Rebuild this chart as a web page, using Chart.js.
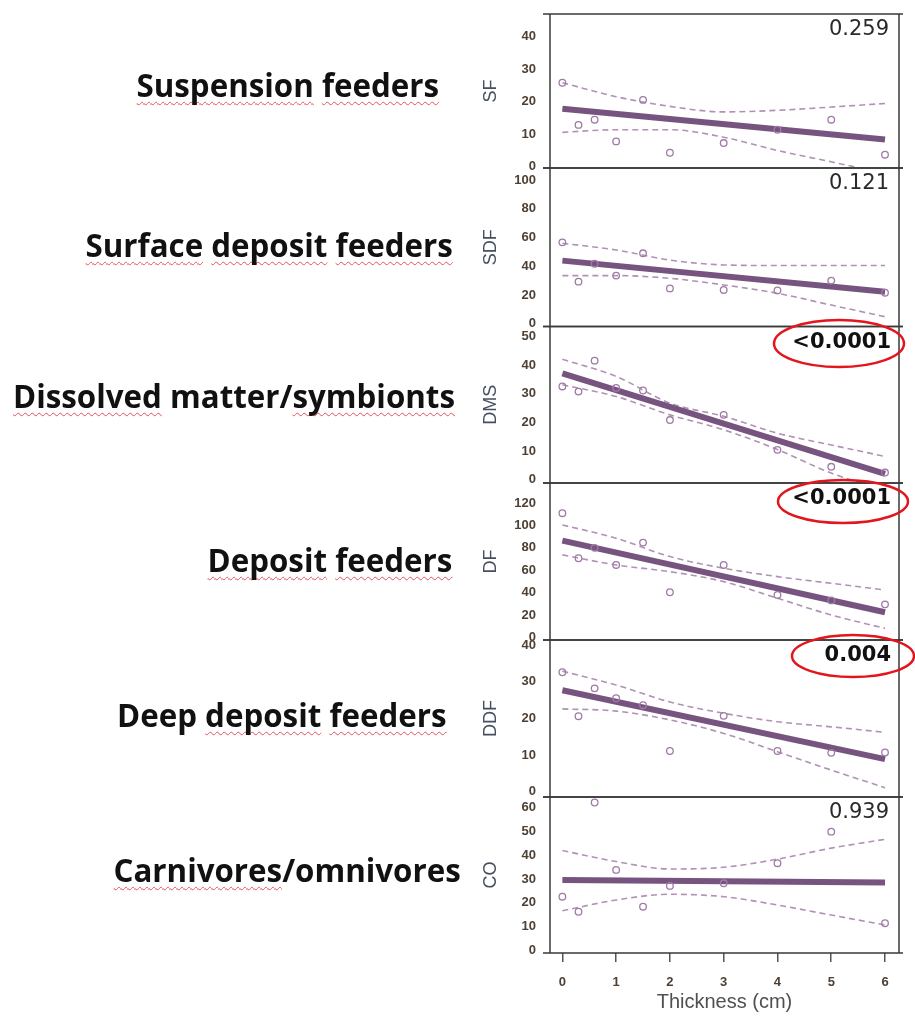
<!DOCTYPE html>
<html>
<head>
<meta charset="utf-8">
<title>Feeding groups vs thickness</title>
<script src="https://cdn.jsdelivr.net/npm/chart.js@4/dist/chart.umd.min.js"></script>
<style>
  html, body { margin: 0; padding: 0; background: #fff; }
  #wrap { position: relative; width: 915px; height: 1017px; overflow: hidden; }
  #chart { position: absolute; left: 0; top: 0; }
  .group {
    position: absolute;
    font-family: "Open Sans", Lato, sans-serif;
    font-weight: 700;
    color: #111;
    white-space: nowrap;
    line-height: 1.2;
  }
  .flag {
    text-decoration: underline wavy #e8505a;
    text-decoration-thickness: 1px;
    text-underline-offset: 4px;
    text-decoration-skip-ink: none;
  }
</style>
</head>
<body>
<div id="wrap">
  <canvas id="chart" width="915" height="1017"></canvas>
</div>
<script>
// sampling sites along the thickness gradient (cm)
const thickness = [0, 0.3, 0.6, 1, 1.5, 2, 3, 4, 5, 6];
// x values for the fitted line and for the 95% band
const fitX = [0, 6];
const bandX = [0, 1, 2, 3, 4, 5, 6];
const xTicks = [0, 1, 2, 3, 4, 5, 6];

const groupNames = ["Suspension feeders", "Surface deposit feeders", "Dissolved matter/symbionts",
                    "Deposit feeders", "Deep deposit feeders", "Carnivores/omnivores"];
const groupCodes = ["SF", "SDF", "DMS", "DF", "DDF", "CO"];
const pValues = ["0.259", "0.121", "<0.0001", "<0.0001", "0.004", "0.939"];
const significant = [false, false, true, true, true, false];
// words the spell checker underlines
const flaggedWords = ["Suspension", "feeders", "Surface", "deposit", "Dissolved", "symbionts", "Deposit", "Carnivores"];

const sfObs   = [25.8, 12.8, 14.4, 7.7, 20.5, 4.2, 7.2, 11.3, 14.4, 3.6];
const sfFit   = [17.8, 8.3];
const sfUpper = [25.8, 21.5, 18.5, 16.8, 17.3, 18.3, 19.4];
const sfLower = [10.5, 11.3, 11.3, 9.0, 4.9, 1.4, -2.2];

const sdfObs   = [56.6, 29.3, 41.7, 33.5, 49.0, 24.6, 23.5, 23.2, 30.0, 21.6];
const sdfFit   = [43.9, 22.3];
const sdfUpper = [56.0, 51.3, 44.3, 40.9, 40.5, 40.5, 40.5];
const sdfLower = [33.5, 33.5, 31.6, 27.0, 21.2, 13.0, 4.9];

const dmsObs   = [32.5, 30.7, 41.5, 32.0, 31.1, 20.8, 22.6, 10.4, 4.5, 2.5];
const dmsFit   = [37.1, 2.0];
const dmsUpper = [42.0, 36.0, 26.7, 22.1, 16.2, 12.1, 8.1];
const dmsLower = [33.1, 29.0, 22.6, 17.4, 10.5, 2.3, -3.5];

const dfObs   = [111, 70.7, 80, 64.7, 84.7, 40.3, 64.7, 37.9, 33, 29.5];
const dfFit   = [86.5, 22.4];
const dfUpper = [100.5, 88.6, 72.2, 61.8, 54.3, 48.3, 42.3];
const dfLower = [73.7, 64.7, 58.7, 49.8, 34.9, 20.0, 8.0];

const ddfObs   = [32.6, 20.6, 28.2, 25.5, 23.6, 11.1, 20.7, 11.1, 10.6, 10.7];
const ddfFit   = [27.7, 8.9];
const ddfUpper = [32.9, 29.1, 24.5, 21.4, 19.1, 17.7, 16.2];
const ddfLower = [22.6, 22.0, 19.6, 15.9, 10.9, 5.9, 1.1];

const coObs   = [22.6, 16.3, 62, 33.8, 18.4, 27.1, 28.2, 36.6, 49.8, 11.5];
const coFit   = [29.6, 28.5];
const coUpper = [41.9, 37.3, 34.2, 34.9, 38.3, 42.9, 46.6];
const coLower = [16.7, 21.2, 23.6, 22.6, 19.1, 14.9, 10.8];

const yTicks = [
  [0, 10, 20, 30, 40],
  [0, 20, 40, 60, 80, 100],
  [0, 10, 20, 30, 40, 50],
  [0, 20, 40, 60, 80, 100, 120],
  [0, 10, 20, 30, 40],
  [0, 10, 20, 30, 40, 50, 60]
];
const yRange = [[-0.5, 47], [-1.9, 108.3], [-1.15, 53.4], [-2.4, 138], [-1.45, 41.4], [-0.96, 64.3]];

const series = [
  { obs: sfObs,  fit: sfFit,  upper: sfUpper,  lower: sfLower },
  { obs: sdfObs, fit: sdfFit, upper: sdfUpper, lower: sdfLower },
  { obs: dmsObs, fit: dmsFit, upper: dmsUpper, lower: dmsLower },
  { obs: dfObs,  fit: dfFit,  upper: dfUpper,  lower: dfLower },
  { obs: ddfObs, fit: ddfFit, upper: ddfUpper, lower: ddfLower },
  { obs: coObs,  fit: coFit,  upper: coUpper,  lower: coLower }
];

// layout and styling
const panelHeights = [154, 158.5, 156.5, 157, 157, 156];
const labelAt = [[288, 97], [269, 257], [234, 408], [330, 572], [282, 727], [287, 882]]; // centre x, baseline
const labelWidest = 442; // px taken by the longest group name
const rings = [null, null,
  { dx: -60, dy: 17, rx: 65, ry: 23.5 },
  { dx: -56, dy: 18.5, rx: 65, ry: 21.5 },
  { dx: -46, dy: 16, rx: 61, ry: 21 },
  null];

const FIT = "#775480";
const BAND = "#b191b6";
const POINT = "#a07aa6";
const FRAME = "#3a3a3a";
const TICK = "#4e4034";
const SANS = "'Liberation Sans', Arial, sans-serif";

const pairs = (xs, ys) => xs.map((x, i) => ({ x: x, y: ys[i] }));

const datasets = [];
series.forEach((s, i) => {
  const yAxisID = "y" + i;
  [s.upper, s.lower].forEach(band => {
    datasets.push({
      type: "line", data: pairs(bandX, band), yAxisID: yAxisID,
      borderColor: BAND, borderWidth: 1.6, borderDash: [6, 4],
      pointRadius: 0, cubicInterpolationMode: "monotone", fill: false, clip: 0, order: 3
    });
  });
  datasets.push({
    type: "line", data: pairs(fitX, s.fit), yAxisID: yAxisID,
    borderColor: FIT, borderWidth: 6, pointRadius: 0, fill: false, clip: 0, order: 2
  });
  datasets.push({
    type: "scatter", data: pairs(thickness, s.obs), yAxisID: yAxisID,
    pointRadius: 3.3, pointBorderWidth: 1.3, pointBorderColor: POINT,
    pointBackgroundColor: "rgba(255,255,255,0)", clip: 0, order: 1
  });
});

const tickFont = { family: SANS, size: 13, weight: "bold" };

const scales = {
  x: {
    type: "linear", min: -0.23, max: 6.26,
    afterBuildTicks: s => { s.ticks = xTicks.map(v => ({ value: v })); },
    afterFit: s => { s.height = 64; s.paddingLeft = 0; s.paddingRight = 0; },
    grid: { display: true, drawOnChartArea: false, drawTicks: true, tickLength: 9, color: "#555", lineWidth: 1.5 },
    border: { display: false },
    ticks: { padding: 13, color: TICK, font: tickFont, autoSkip: false, maxRotation: 0 },
    title: { display: true, text: "Thickness (cm)", color: "#505050", font: { family: SANS, size: 20 }, padding: { top: 2, bottom: 3 } }
  }
};
// the bottom panel's axis goes in first so the stack reads top to bottom
for (let i = series.length - 1; i >= 0; i--) {
  const ticks = yTicks[i];
  scales["y" + i] = {
    type: "linear", position: "left", stack: "panels", stackWeight: panelHeights[i],
    min: yRange[i][0], max: yRange[i][1],
    afterBuildTicks: s => { s.ticks = ticks.map(v => ({ value: v })); },
    afterFit: s => { s.width = 74; s.paddingTop = 0; s.paddingBottom = 0; },
    grid: { display: false, drawTicks: false },
    border: { display: false },
    ticks: { padding: 14, color: TICK, font: tickFont, autoSkip: false },
    title: { display: true, text: groupCodes[i], color: "#465060", font: { family: SANS, size: 18 }, padding: { top: 4, bottom: 0 } }
  };
}

// panel boxes, p-values and the rings round the significant ones
const panelDecor = {
  id: "panelDecor",
  afterDraw(chart) {
    const { ctx, chartArea: { left, right } } = chart;
    ctx.save();
    groupCodes.forEach((code, i) => {
      const s = chart.scales["y" + i];
      ctx.strokeStyle = FRAME;
      ctx.lineWidth = 1.5;
      ctx.beginPath();
      ctx.moveTo(left, s.top); ctx.lineTo(left, s.bottom);
      ctx.moveTo(right, s.top); ctx.lineTo(right, s.bottom);
      ctx.moveTo(left - 7, s.top); ctx.lineTo(right + 4, s.top);
      ctx.moveTo(left - 7, s.bottom); ctx.lineTo(right + 4, s.bottom);
      ctx.stroke();

      ctx.font = (significant[i] ? "bold " : "") + "21px 'DejaVu Sans', sans-serif";
      ctx.fillStyle = significant[i] ? "#111" : "#2a2a2a";
      ctx.textAlign = "right";
      ctx.textBaseline = "middle";
      ctx.fillText(pValues[i], right - (significant[i] ? 8 : 10), s.top + 16);

      const r = rings[i];
      if (r) {
        ctx.strokeStyle = "#e3151d";
        ctx.lineWidth = 2.5;
        ctx.beginPath();
        ctx.ellipse(right + r.dx, s.top + r.dy, r.rx, r.ry, 0, 0, Math.PI * 2);
        ctx.stroke();
      }
    });
    ctx.restore();
  }
};

new Chart(document.getElementById("chart"), {
  type: "scatter",
  data: { datasets: datasets },
  options: {
    responsive: false,
    animation: false,
    devicePixelRatio: 1,
    layout: { padding: { left: 476, right: 16, top: 14, bottom: 0 } },
    scales: scales,
    plugins: { legend: { display: false }, tooltip: { enabled: false } }
  },
  plugins: [panelDecor]
});

// group names on the left, with the spell-check squiggles
const wrap = document.getElementById("wrap");
const labels = groupNames.map(name => {
  const div = document.createElement("div");
  div.className = "group";
  div.style.fontSize = "100px";
  name.split(/([A-Za-z]+)/).forEach(part => {
    if (!part) return;
    if (flaggedWords.includes(part)) {
      const span = document.createElement("span");
      span.className = "flag";
      span.textContent = part;
      div.appendChild(span);
    } else {
      div.appendChild(document.createTextNode(part));
    }
  });
  const mark = document.createElement("span");
  mark.style.cssText = "display:inline-block;width:0;height:0;";
  div.appendChild(mark);
  wrap.appendChild(div);
  return { div, mark };
});
// size the names so the longest one fills its slot
const widest = Math.max(...labels.map(l => l.div.offsetWidth));
const fontPx = 100 * labelWidest / widest;
labels.forEach(({ div, mark }, i) => {
  div.style.fontSize = fontPx + "px";
  const base = mark.getBoundingClientRect().top - div.getBoundingClientRect().top;
  div.style.left = (labelAt[i][0] - div.offsetWidth / 2) + "px";
  div.style.top = (labelAt[i][1] - base) + "px";
});
</script>
</body>
</html>
